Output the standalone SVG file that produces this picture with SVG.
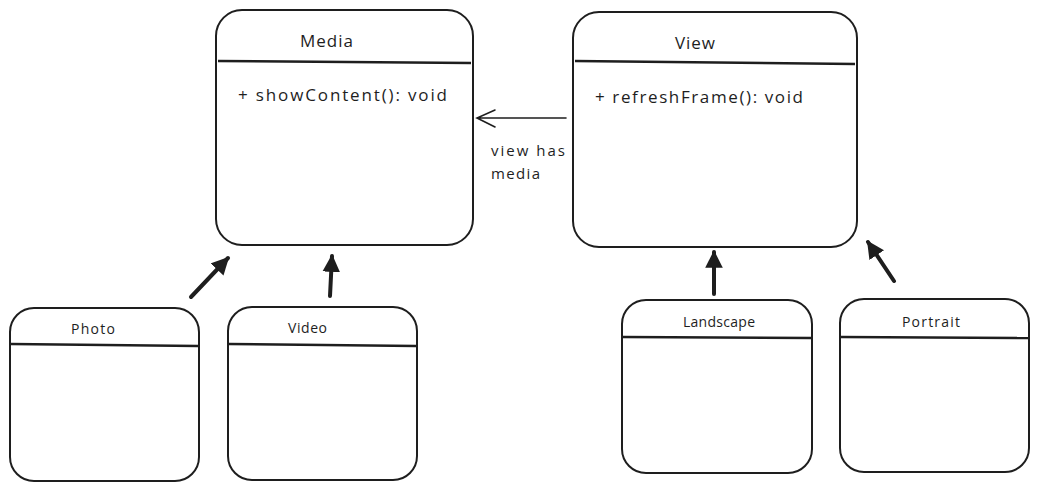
<svg xmlns="http://www.w3.org/2000/svg" width="1039" height="490" viewBox="0 0 1039 490">
<style>
.box{fill:#fff;stroke:#1e1e1e;stroke-width:2}
.sep{stroke:#1e1e1e;stroke-width:2.5}
.t{font-family:"Open Sans","Noto Sans",sans-serif;fill:#1e1e1e}
.big{font-size:17px}
.sm{font-size:14px}
.lbl{font-size:15px}
.inh{stroke:#1e1e1e;stroke-width:4;stroke-linecap:round;fill:none}
.assoc{stroke:#1e1e1e;stroke-width:1.6;fill:none;stroke-linecap:round}
</style>
<defs>
<marker id="tri" viewBox="0 0 10 10" refX="9" refY="5" markerWidth="4.4" markerHeight="4.4" orient="auto" markerUnits="strokeWidth">
<path d="M0,0 L10,5 L0,10 z" fill="#1e1e1e"/>
</marker>
</defs>
<rect width="1039" height="490" fill="#fff"/>
<g id="connectors">
<path class="assoc" d="M566,118 L477,118 M495,110 L477,118 L495,127"/>
<text class="t lbl" x="491" y="156" textLength="74" lengthAdjust="spacing">view has</text>
<text class="t lbl" x="491" y="179" textLength="49" lengthAdjust="spacing">media</text>
<line class="inh" x1="191" y1="297" x2="228" y2="258" marker-end="url(#tri)"/>
<line class="inh" x1="330" y1="296" x2="332" y2="256" marker-end="url(#tri)"/>
<line class="inh" x1="714" y1="294" x2="714" y2="252" marker-end="url(#tri)"/>
<line class="inh" x1="894" y1="281" x2="868" y2="242" marker-end="url(#tri)"/>
</g>
<g id="media">
<rect class="box" x="216" y="10" width="257" height="235" rx="26"/>
<line class="sep" x1="218" y1="61" x2="471" y2="63"/>
<text class="t big" x="300" y="47" textLength="53" lengthAdjust="spacing">Media</text>
<text class="t big" x="238" y="101" textLength="209" lengthAdjust="spacing">+ showContent(): void</text>
</g>
<g id="view">
<rect class="box" x="573" y="12" width="284" height="235" rx="26"/>
<line class="sep" x1="575" y1="61" x2="855" y2="64"/>
<text class="t big" x="675" y="49" textLength="40" lengthAdjust="spacing">View</text>
<text class="t big" x="595" y="103" textLength="208" lengthAdjust="spacing">+ refreshFrame(): void</text>
</g>
<g id="photo">
<rect class="box" x="10" y="308" width="189" height="173" rx="24"/>
<line class="sep" x1="11" y1="344" x2="198" y2="346"/>
<text class="t sm" x="71" y="334" textLength="44" lengthAdjust="spacing">Photo</text>
</g>
<g id="video">
<rect class="box" x="228" y="307" width="189" height="173" rx="24"/>
<line class="sep" x1="229" y1="344" x2="416" y2="346"/>
<text class="t sm" x="288" y="333" textLength="39" lengthAdjust="spacing">Video</text>
</g>
<g id="landscape">
<rect class="box" x="622" y="300" width="190" height="173" rx="24"/>
<line class="sep" x1="623" y1="337" x2="811" y2="338"/>
<text class="t sm" x="683" y="327" textLength="72" lengthAdjust="spacing">Landscape</text>
</g>
<g id="portrait">
<rect class="box" x="840" y="299" width="189" height="173" rx="24"/>
<line class="sep" x1="841" y1="337" x2="1028" y2="338"/>
<text class="t sm" x="902" y="327" textLength="58" lengthAdjust="spacing">Portrait</text>
</g>
</svg>
